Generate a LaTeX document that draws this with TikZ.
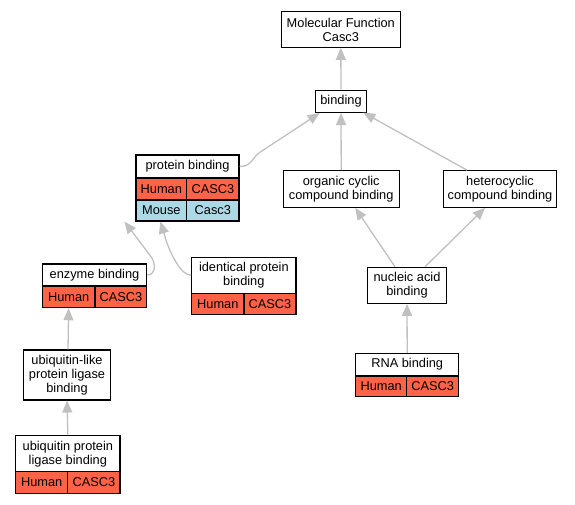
\documentclass[tikz,border=0pt]{standalone}
\usepackage{fontspec}
\setmainfont{Liberation Sans}
\usetikzlibrary{arrows.meta}
\definecolor{tomatored}{HTML}{FF6347}
\definecolor{lblue}{HTML}{ADD8E6}
\definecolor{edgegray}{HTML}{C0C0C0}
\tikzset{
  box/.style={draw=black, line width=1.1pt, fill=white, inner sep=0pt, align=center, font=\fontsize{12.8}{14}\selectfont},
  redcell/.style={box, fill=tomatored},
  bluecell/.style={box, fill=lblue},
  edge/.style={draw=edgegray, line width=1.3pt, -{Triangle[length=12pt,width=10pt]}}
}
\begin{document}
\begin{tikzpicture}[x=1pt,y=-1pt]
\useasboundingbox (0,0) rectangle (575,504);
% nodes
\node[box, minimum width=119.5pt, minimum height=35.6pt] (mf) at (340.8,29.5) {Molecular Function\\Casc3};
\node[box, minimum width=51.4pt, minimum height=22.4pt] (bind) at (341,101.3) {binding};
% protein binding
\node[box, minimum width=103pt, minimum height=23pt] (pbh) at (187.5,166.5) {protein binding};
\node[redcell, minimum width=50.7pt, minimum height=22pt] (pbc1) at (161.35,189) {Human};
\node[redcell, minimum width=52.3pt, minimum height=22pt] (pbc2) at (212.85,189) {CASC3};
\node[bluecell, minimum width=50.7pt, minimum height=21pt] (pbm1) at (161.35,210.5) {Mouse};
\node[bluecell, minimum width=52.3pt, minimum height=21pt] (pbm2) at (212.85,210.5) {Casc3};
% organic / heterocyclic
\node[box, minimum width=115.7pt, minimum height=36.6pt] (org) at (341.2,189) {organic cyclic\\compound binding};
\node[box, minimum width=113.4pt, minimum height=36.6pt] (het) at (500,189) {heterocyclic\\compound binding};
% enzyme binding
\node[box, minimum width=104.4pt, minimum height=22pt] (enzh) at (94.5,275) {enzyme binding};
\node[redcell, minimum width=52.7pt, minimum height=21.7pt] (enzc1) at (68.65,296.85) {Human};
\node[redcell, minimum width=51.7pt, minimum height=21.7pt] (enzc2) at (120.85,296.85) {CASC3};
% identical protein binding
\node[box, minimum width=104.3pt, minimum height=36pt] (iph) at (243.85,275.3) {identical protein\\binding};
\node[redcell, minimum width=52.3pt, minimum height=21pt] (ipc1) at (217.85,303.8) {Human};
\node[redcell, minimum width=52pt, minimum height=21pt] (ipc2) at (270,303.8) {CASC3};
% nucleic acid binding
\node[box, minimum width=79.4pt, minimum height=36pt] (nuc) at (407,285.3) {nucleic acid\\binding};
% RNA binding
\node[box, minimum width=103pt, minimum height=22.7pt] (rnah) at (407.2,364.65) {RNA binding};
\node[redcell, minimum width=51pt, minimum height=20.7pt] (rnac1) at (381.2,386.35) {Human};
\node[redcell, minimum width=52pt, minimum height=20.7pt] (rnac2) at (432.7,386.35) {CASC3};
% ubiquitin-like
\node[box, minimum width=87.4pt, minimum height=50pt] (ubl) at (67,375) {ubiquitin-like\\protein ligase\\binding};
% ubiquitin protein ligase binding
\node[box, minimum width=104.3pt, minimum height=36pt] (ubph) at (67.85,453.7) {ubiquitin protein\\ligase binding};
\node[redcell, minimum width=52pt, minimum height=21.6pt] (ubpc1) at (41.7,482.5) {Human};
\node[redcell, minimum width=52.3pt, minimum height=21.6pt] (ubpc2) at (93.85,482.5) {CASC3};
% edges
\draw[edge] (bind.north) -- (mf.south);
\draw[edge] (org.north) -- (bind.south);
\draw[edge] ([xshift=-33pt]het.north) -- ([xshift=-4pt,yshift=0.5pt]bind.south east);
\draw[edge] (pbh.east) .. controls +(12,0) and +(-8,6) .. ++(20,-14) -- ([xshift=5pt]bind.south west);
\draw[edge] (enzh.east) .. controls +(8,0) and +(5,7.5) .. ++(4,-18) -- ([xshift=-11pt]pbm1.south west);
\draw[edge] (iph.west) .. controls +(-10,0) and +(5,15) .. (166,240) -- ([xshift=-1pt]pbm1.south);
\draw[edge] ([xshift=-12pt]nuc.north) -- ([xshift=14pt]org.south);
\draw[edge] ([xshift=18pt]nuc.north) -- ([xshift=-15pt]het.south);
\draw[edge] (rnah.north) -- (nuc.south);
\draw[edge] ([xshift=1pt]ubl.north) -- (enzc1.south);
\draw[edge] (ubph.north) -- (ubl.south);
\end{tikzpicture}
\end{document}
